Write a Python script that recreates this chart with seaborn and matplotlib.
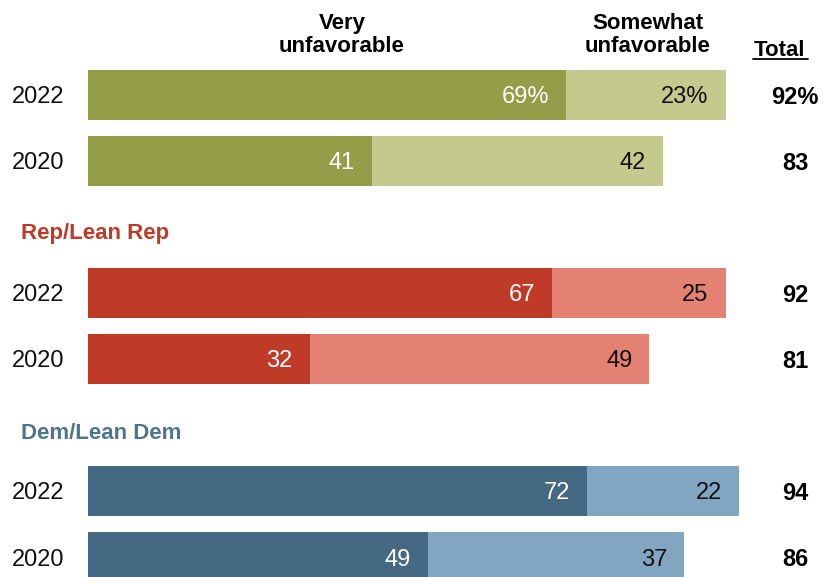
import pandas as pd
import seaborn as sns
import matplotlib.pyplot as plt

# data
groups = ['All', 'All', 'Rep/Lean Rep', 'Rep/Lean Rep', 'Dem/Lean Dem', 'Dem/Lean Dem']
years = ['2022', '2020', '2022', '2020', '2022', '2020']
very = [69, 41, 67, 32, 72, 49]
somewhat = [23, 42, 25, 49, 22, 37]
totals = [92, 83, 92, 81, 94, 86]
rows = [0, 1, 3, 4, 6, 7]

dark = {'All': '#949D48', 'Rep/Lean Rep': '#BF3A27', 'Dem/Lean Dem': '#456982'}
light = {'All': '#C4CA8E', 'Rep/Lean Rep': '#E38273', 'Dem/Lean Dem': '#82A6C1'}
head_col = {'Rep/Lean Rep': '#BF3A27', 'Dem/Lean Dem': '#4E7590'}

df = pd.DataFrame({'group': groups, 'year': years, 'very': very,
                   'somewhat': somewhat, 'total': totals, 'row': rows})
df['stack'] = df['very'] + df['somewhat']

sns.set_style('white')
plt.rcParams['font.family'] = ['Liberation Sans', 'DejaVu Sans']

fig = plt.figure(figsize=(8.28, 5.77), dpi=100)
ax = fig.add_axes([0, 0, 1, 1])

sns.barplot(data=df, x='stack', y='row', hue='group', palette=light, orient='h',
            native_scale=True, dodge=False, width=0.76, legend=False, ax=ax,
            saturation=1, linewidth=0)
sns.barplot(data=df, x='very', y='row', hue='group', palette=dark, orient='h',
            native_scale=True, dodge=False, width=0.76, legend=False, ax=ax,
            saturation=1, linewidth=0)

ppu = 6.93  # pixels per percentage point
x0 = 88
ax.set_xlim(-x0 / ppu, (828 - x0) / ppu)
ax.set_ylim((577 - 95) / 66, -95 / 66)
ax.axis('off')


def px(x):
    return (x - x0) / ppu


def py(y):
    return (y - 95) / 66


pad = 17 / ppu
fs = 17
for i, r in df.iterrows():
    suf = '%' if i == 0 else ''
    ax.text(px(12), r['row'], r['year'], ha='left', va='center_baseline', fontsize=fs, color='#111111')
    ax.text(r['very'] - pad, r['row'], f"{r['very']}{suf}", ha='right', va='center_baseline',
            fontsize=fs, color='white')
    ax.text(r['stack'] - pad, r['row'], f"{r['somewhat']}{suf}", ha='right', va='center_baseline',
            fontsize=fs, color='#111111')
    ax.text(px(795), r['row'], f"{r['total']}{suf}", ha='center', va='center_baseline',
            fontsize=fs, fontweight='bold', color='black')

# group headers
ax.text(px(21), py(231), 'Rep/Lean Rep', ha='left', va='center_baseline', fontsize=16,
        fontweight='bold', color=head_col['Rep/Lean Rep'])
ax.text(px(21), py(431), 'Dem/Lean Dem', ha='left', va='center_baseline', fontsize=16,
        fontweight='bold', color=head_col['Dem/Lean Dem'])

# column headers
ax.text(px(342), py(35), 'Very\nunfavorable', ha='center', va='center', fontsize=16,
        fontweight='bold', linespacing=1.1, color='black')
ax.text(px(648), py(35), 'Somewhat\nunfavorable', ha='center', va='center', fontsize=16,
        fontweight='bold', linespacing=1.1, color='black')
ax.text(px(780), py(48), 'Total', ha='center', va='center_baseline', fontsize=16,
        fontweight='bold', color='black')
ax.plot([px(753), px(808)], [py(59), py(59)], color='black', lw=1.3)

plt.savefig('out.png', dpi=100)
